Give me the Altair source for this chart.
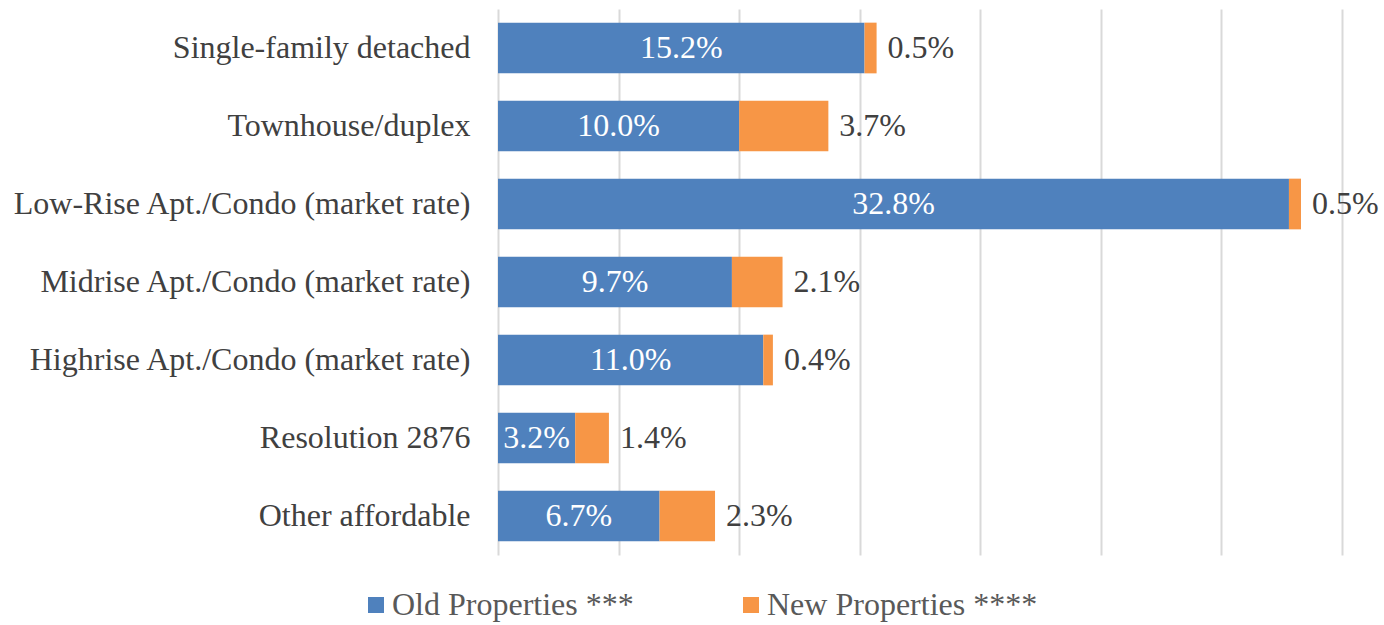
import altair as alt
import pandas as pd

categories = [
    "Single-family detached",
    "Townhouse/duplex",
    "Low-Rise Apt./Condo (market rate)",
    "Midrise Apt./Condo (market rate)",
    "Highrise Apt./Condo (market rate)",
    "Resolution 2876",
    "Other affordable",
]
old_values = [15.2, 10.0, 32.8, 9.7, 11.0, 3.2, 6.7]
new_values = [0.5, 3.7, 0.5, 2.1, 0.4, 1.4, 2.3]
series = ["Old Properties ***", "New Properties ****"]
colors = ["#4F81BD", "#F79646"]

rows = []
for c, o, n in zip(categories, old_values, new_values):
    rows.append({"cat": c, "series": series[0], "value": o, "ord": 0})
    rows.append({"cat": c, "series": series[1], "value": n, "ord": 1})
long_df = pd.DataFrame(rows)

lab_df = pd.DataFrame({
    "cat": categories,
    "old": old_values,
    "new": new_values,
})
lab_df["mid"] = lab_df["old"] / 2
lab_df["end"] = lab_df["old"] + lab_df["new"]
lab_df["old_lab"] = [f"{v:.1f}%" for v in old_values]
lab_df["new_lab"] = [f"{v:.1f}%" for v in new_values]

FONT = "Times New Roman, Liberation Serif, serif"
FS = 32

y_enc = alt.Y(
    "cat:N",
    sort=categories,
    scale=alt.Scale(paddingInner=0.35, paddingOuter=0.175),
    axis=alt.Axis(
        title=None, domain=False, ticks=False, labelPadding=28,
        labelFontSize=FS, labelFont=FONT, labelColor="#404040", labelLimit=700,
    ),
)

x_scale = alt.Scale(domain=[0, 35], nice=False, zero=True)

bars = alt.Chart(long_df).mark_bar().encode(
    y=y_enc,
    x=alt.X(
        "value:Q",
        stack="zero",
        scale=x_scale,
        axis=alt.Axis(
            title=None, labels=False, ticks=False, domain=False,
            values=[0, 5, 10, 15, 20, 25, 30, 35],
            grid=True, gridColor="#D9D9D9", gridWidth=2,
        ),
    ),
    color=alt.Color(
        "series:N",
        scale=alt.Scale(domain=series, range=colors),
        sort=series,
        legend=alt.Legend(
            title=None, orient="none", direction="horizontal",
            legendX=-138, legendY=580,
            symbolType="square", symbolSize=256, symbolStrokeWidth=0,
            labelFontSize=FS, labelFont=FONT, labelColor="#595959",
            labelOffset=0, columnPadding=101, labelLimit=600,
        ),
    ),
    order=alt.Order("ord:Q"),
)

old_text = alt.Chart(lab_df).mark_text(
    font=FONT, fontSize=FS, color="white", align="center", baseline="middle"
).encode(
    y=alt.Y("cat:N", sort=categories),
    x=alt.X("mid:Q", scale=x_scale),
    text="old_lab:N",
)

new_text = alt.Chart(lab_df).mark_text(
    font=FONT, fontSize=FS, color="#404040", align="left", baseline="middle", dx=11
).encode(
    y=alt.Y("cat:N", sort=categories),
    x=alt.X("end:Q", scale=x_scale),
    text="new_lab:N",
)

chart = alt.layer(bars, old_text, new_text).properties(
    width=844,
    height=546,
    autosize=alt.AutoSizeParams(type="none"),
    padding={"left": 498, "top": 9, "right": 42, "bottom": 70},
    background="white",
).configure_view(stroke=None)

chart.save("out.html", embed_options={"renderer": "svg", "actions": False})
